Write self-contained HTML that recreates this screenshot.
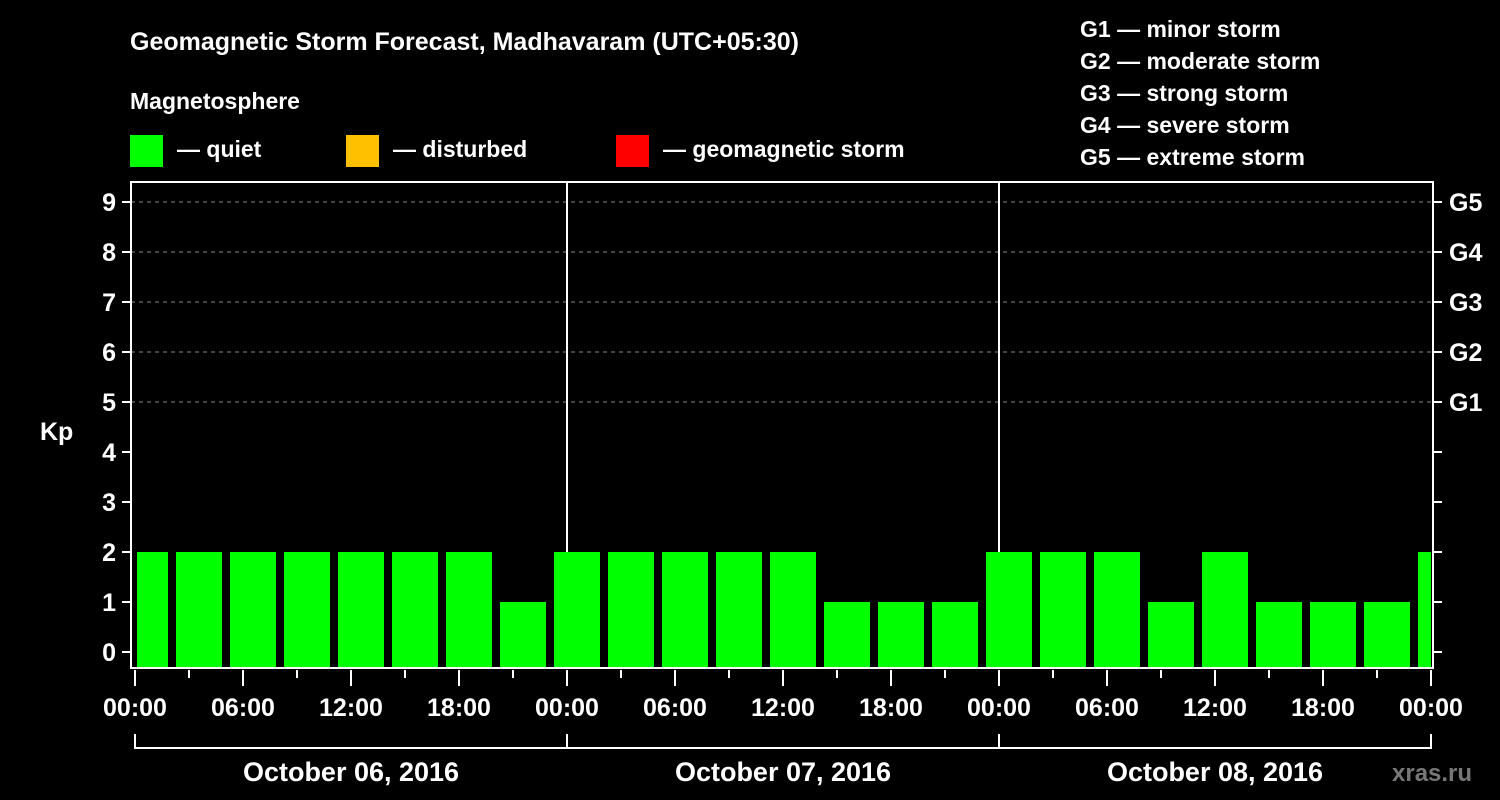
<!DOCTYPE html>
<html><head><meta charset="utf-8"><style>
html,body{margin:0;padding:0;background:#000;}
svg{display:block;font-family:"Liberation Sans",Arial,sans-serif;font-weight:bold;}
</style></head><body>
<svg id="chart" width="1500" height="800" xmlns="http://www.w3.org/2000/svg">
<rect width="1500" height="800" fill="#000"/>
<text x="130" y="50" fill="#fff" font-size="25">Geomagnetic Storm Forecast, Madhavaram (UTC+05:30)</text>
<text x="130" y="109" fill="#fff" font-size="23">Magnetosphere</text>
<g><rect x="130" y="135" width="33" height="32" fill="#00ff00"/><text x="177" y="157" fill="#fff" font-size="23">— quiet</text></g>
<g><rect x="346" y="135" width="33" height="32" fill="#ffc000"/><text x="393" y="157" fill="#fff" font-size="23">— disturbed</text></g>
<g><rect x="616" y="135" width="33" height="32" fill="#ff0000"/><text x="663" y="157" fill="#fff" font-size="23">— geomagnetic storm</text></g>
<g fill="#fff" font-size="23">
<text x="1080" y="37">G1 — minor storm</text>
<text x="1080" y="69">G2 — moderate storm</text>
<text x="1080" y="101">G3 — strong storm</text>
<text x="1080" y="133">G4 — severe storm</text>
<text x="1080" y="165">G5 — extreme storm</text>
</g>
<text x="40" y="440" fill="#fff" font-size="25">Kp</text>
<g id="grid"></g>
<g id="bars"></g>
<g id="axes"></g>
<text x="1392" y="781" fill="#777" font-size="24">xras.ru</text>
</svg>
<script>
const kpValues=[2,2,2,2,2,2,2,1,2,2,2,2,2,1,1,1,2,2,2,1,2,1,1,1,2];
const yTicks=[0,1,2,3,4,5,6,7,8,9];
const gLabels=["G1","G2","G3","G4","G5"];
const xTickLabels=["00:00","06:00","12:00","18:00","00:00","06:00","12:00","18:00","00:00","06:00","12:00","18:00","00:00"];
const dayLabels=["October 06, 2016","October 07, 2016","October 08, 2016"];
const firstSlotHour=-1.1667;
const NS="http://www.w3.org/2000/svg";
const X0=135,PX_H=18,Y0=652,PX_K=50,L=131,R=1433,T=182,B=668;
const xs=h=>X0+h*PX_H, ys=v=>Y0-v*PX_K;
function mk(p,tag,a){const e=document.createElementNS(NS,tag);for(const k in a)e.setAttribute(k,a[k]);p.appendChild(e);return e;}
const grid=document.getElementById('grid'),bars=document.getElementById('bars'),axes=document.getElementById('axes');
[5,6,7,8,9].forEach(v=>{const l=mk(grid,'line',{x1:L,x2:R,y1:ys(v),y2:ys(v),stroke:'#888','stroke-dasharray':'4,4','stroke-width':1});

});
[24,48].forEach(h=>{const l=mk(grid,'line',{x1:xs(h),x2:xs(h),y1:T,y2:B,stroke:'#fff','stroke-width':2});

});
kpValues.forEach((v,i)=>{const s=firstSlotHour+3*i;let a=Math.max(0,s+0.333),b=Math.min(72,s+3);
const r=mk(bars,'rect',{x:xs(a)+2,y:ys(v),width:xs(b)-xs(a)-2,height:B-ys(v),fill:v>=5?'#ff0000':(v>=4?'#ffc000':'#00ff00')});

});
const f=mk(axes,'rect',{x:L,y:T,width:R-L,height:B-T,fill:'none',stroke:'#fff','stroke-width':2});


yTicks.forEach(v=>{mk(axes,'line',{x1:122,x2:L,y1:ys(v),y2:ys(v),stroke:'#fff','stroke-width':2});
mk(axes,'line',{x1:R,x2:1442,y1:ys(v),y2:ys(v),stroke:'#fff','stroke-width':2});
const t=mk(axes,'text',{x:116,y:ys(v)+9,fill:'#fff','font-size':25,'text-anchor':'end'});t.textContent=v;

});
gLabels.forEach((g,i)=>{const t=mk(axes,'text',{x:1449,y:ys(5+i)+9,fill:'#fff','font-size':25});t.textContent=g;

});
for(let h=0;h<=72;h+=3){const maj=h%6===0;mk(axes,'line',{x1:xs(h),x2:xs(h),y1:B+2,y2:maj?686:678,stroke:'#fff','stroke-width':2});}
xTickLabels.forEach((s,i)=>{const t=mk(axes,'text',{x:xs(i*6),y:716,fill:'#fff','font-size':25,'text-anchor':'middle'});t.textContent=s;

});
mk(axes,'line',{x1:xs(0),x2:xs(72),y1:748,y2:748,stroke:'#fff','stroke-width':2});
[0,24,48,72].forEach(h=>mk(axes,'line',{x1:xs(h),x2:xs(h),y1:734,y2:749,stroke:'#fff','stroke-width':2}));
dayLabels.forEach((s,i)=>{const t=mk(axes,'text',{x:xs(i*24+12),y:781,fill:'#fff','font-size':27,'text-anchor':'middle'});t.textContent=s;

});
</script>
</body></html>
